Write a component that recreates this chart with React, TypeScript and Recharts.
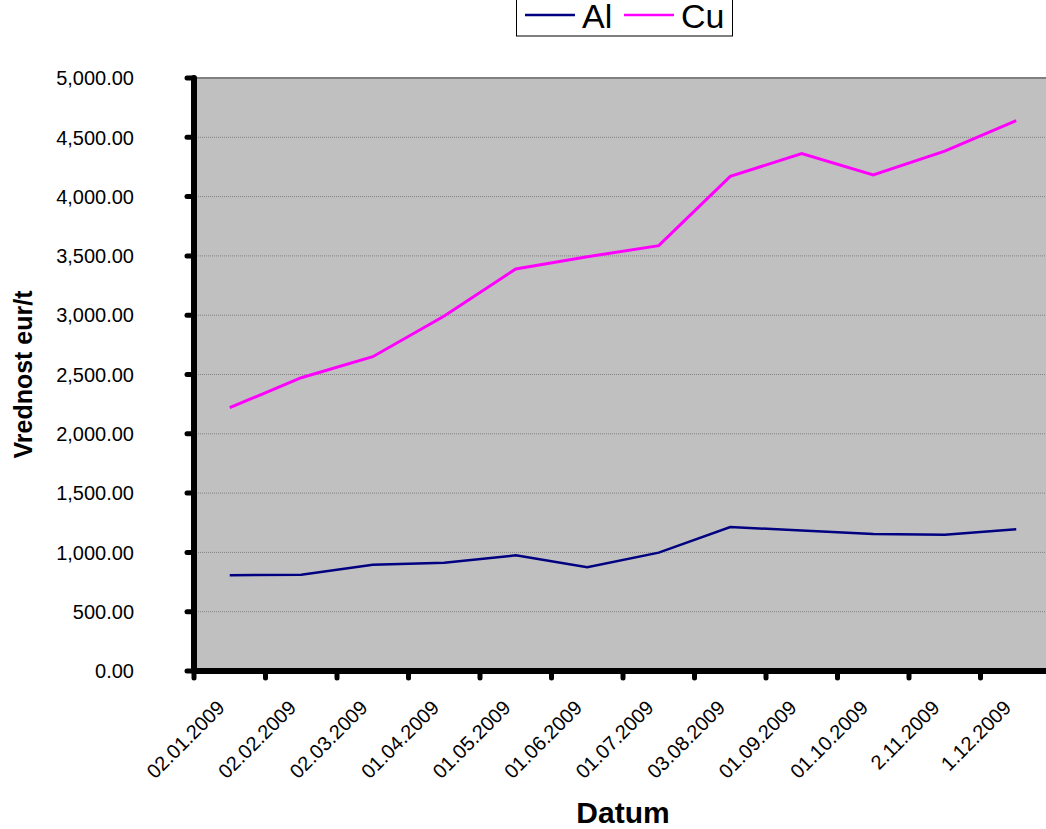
import { LineChart, Line, XAxis, YAxis, CartesianGrid, ReferenceLine, Label } from 'recharts';

const categories = [
  '02.01.2009', '02.02.2009', '02.03.2009', '01.04.2009', '01.05.2009', '01.06.2009',
  '01.07.2009', '03.08.2009', '01.09.2009', '01.10.2009', '2.11.2009', '1.12.2009',
];
const alValues = [807, 812, 896, 913, 975, 874, 998, 1214, 1185, 1155, 1149, 1195];
const cuValues = [2220, 2473, 2650, 2993, 3390, 3493, 3586, 4171, 4362, 4182, 4384, 4640];
const yTicks = [0, 500, 1000, 1500, 2000, 2500, 3000, 3500, 4000, 4500, 5000];

const FONT = '"Liberation Sans", Arial, sans-serif';
const CHART_W = 1070;
const CHART_H = 829;
const Y_AXIS_W = 194;
const X_AXIS_H = 158;
const MARGIN = { top: 78, right: 18, bottom: 0, left: 0 };
const STEP = (CHART_W - Y_AXIS_W - MARGIN.right - MARGIN.left) / categories.length;

const data = categories.map((d, i) => ({ datum: d, Al: alValues[i], Cu: cuValues[i] }));

const fmt = (v: number) =>
  v.toLocaleString('en-US', { minimumFractionDigits: 2, maximumFractionDigits: 2 });

function XTick(props: any) {
  const { x, y, payload } = props;
  const bx = x - STEP / 2;
  const tx = x - 4;
  const ty = y + 38;
  return (
    <g>
      <line x1={bx} y1={y} x2={bx} y2={y + 7} stroke="#000" strokeWidth={5} strokeLinecap="round" />
      <text
        x={tx}
        y={ty}
        textAnchor="end"
        transform={`rotate(-45, ${tx}, ${ty})`}
        fontSize={20}
        fontFamily={FONT}
        fill="#000"
      >
        {payload.value}
      </text>
    </g>
  );
}

function YTick(props: any) {
  const { x, y, payload } = props;
  return (
    <text x={x} y={y} dy="0.36em" textAnchor="end" fontSize={20} fontFamily={FONT} fill="#000">
      {fmt(payload.value)}
    </text>
  );
}

function ChartLegend() {
  return (
    <svg width={1046} height={60} style={{ position: 'absolute', left: 0, top: 0, pointerEvents: 'none' }}>
      <rect x={516.5} y={-10} width={216} height={46} fill="#fff" stroke="#000" strokeWidth={1} />
      <line x1={525} y1={15} x2={575} y2={15} stroke="#000080" strokeWidth={2.5} />
      <text x={582} y={28} fontSize={34} fontFamily={FONT} fill="#000">Al</text>
      <line x1={624} y1={15} x2={674} y2={15} stroke="#FF00FF" strokeWidth={2.5} />
      <text x={681} y={28} fontSize={34} fontFamily={FONT} fill="#000">Cu</text>
    </svg>
  );
}

export default function App() {
  return (
    <div style={{ position: 'fixed', left: 0, top: 0, width: 1046, height: 829, overflow: 'hidden', background: '#fff' }}>
      <LineChart width={CHART_W} height={CHART_H} data={data} margin={MARGIN}>
        <CartesianGrid
          vertical={false}
          fill="#C0C0C0"
          stroke="#808080"
          strokeDasharray="1 1"
        />
        <ReferenceLine y={5000} stroke="#808080" strokeWidth={2} />
        <XAxis
          dataKey="datum"
          interval={0}
          padding={{ left: STEP / 2, right: STEP / 2 }}
          tickSize={0}
          tickMargin={0}
          tickLine={false}
          axisLine={{ stroke: '#000', strokeWidth: 6 }}
          tick={<XTick />}
          height={X_AXIS_H}
        >
          <Label
            content={({ viewBox }: any) => (
              <text
                x={viewBox.x + viewBox.width / 2}
                y={823}
                textAnchor="middle"
                fontSize={30}
                fontWeight="bold"
                fontFamily={FONT}
                fill="#000"
              >
                Datum
              </text>
            )}
          />
        </XAxis>
        <YAxis
          width={Y_AXIS_W}
          domain={[0, 5000]}
          ticks={yTicks}
          interval={0}
          tickSize={7}
          tickMargin={53}
          tickLine={{ stroke: '#000', strokeWidth: 5, strokeLinecap: 'round' }}
          axisLine={{ stroke: '#000', strokeWidth: 6, strokeLinecap: 'round' }}
          tick={<YTick />}
        >
          <Label
            content={({ viewBox }: any) => {
              const cy = viewBox.y + viewBox.height / 2;
              return (
                <text
                  x={32}
                  y={cy}
                  textAnchor="middle"
                  transform={`rotate(-90, 32, ${cy})`}
                  fontSize={25}
                  fontWeight="bold"
                  fontFamily={FONT}
                  fill="#000"
                >
                  Vrednost eur/t
                </text>
              );
            }}
          />
        </YAxis>
        <Line
          type="linear"
          dataKey="Al"
          stroke="#000080"
          strokeWidth={2.5}
          dot={false}
          isAnimationActive={false}
        />
        <Line
          type="linear"
          dataKey="Cu"
          stroke="#FF00FF"
          strokeWidth={3}
          dot={false}
          isAnimationActive={false}
        />
      </LineChart>
      <ChartLegend />
    </div>
  );
}
